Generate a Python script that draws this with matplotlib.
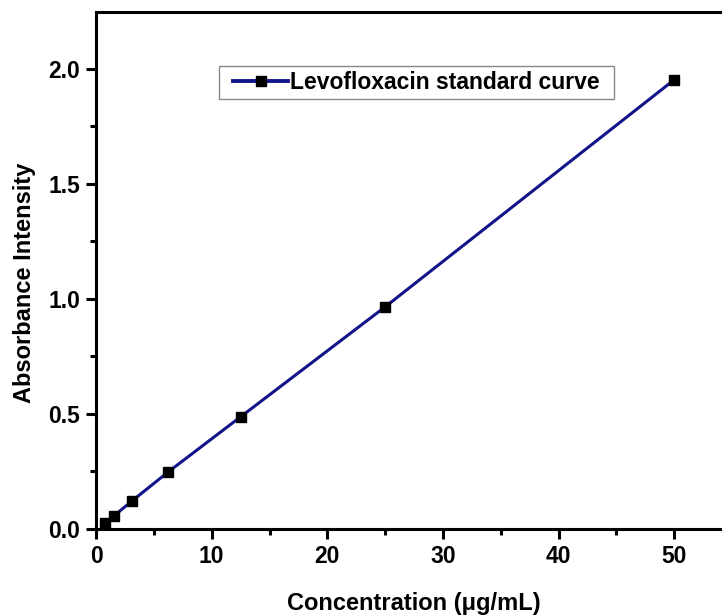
import matplotlib
matplotlib.use("Agg")
import matplotlib.pyplot as plt
from matplotlib.ticker import MultipleLocator, FormatStrFormatter

# Levofloxacin calibration data
conc = [0.78, 1.56, 3.125, 6.25, 12.5, 25, 50]
absorb = [0.025, 0.057, 0.122, 0.248, 0.487, 0.965, 1.952]

plt.rcParams['font.family'] = ['Liberation Sans', 'DejaVu Sans']
plt.rcParams['font.weight'] = 'bold'

fig = plt.figure(figsize=(7.22, 6.15), dpi=100)
ax = fig.add_axes([0.133, 0.140, 0.881, 0.840])

ax.plot(conc, absorb, color='#14148a', linewidth=2.2, marker='s',
        markersize=7.5, markerfacecolor='black', markeredgecolor='black',
        label='Levofloxacin standard curve')

ax.set_xlim(0, 55)
ax.set_ylim(0, 2.245)
ax.xaxis.set_major_locator(MultipleLocator(10))
ax.xaxis.set_minor_locator(MultipleLocator(5))
ax.yaxis.set_major_locator(MultipleLocator(0.5))
ax.yaxis.set_minor_locator(MultipleLocator(0.25))
ax.yaxis.set_major_formatter(FormatStrFormatter('%.1f'))

for s in ax.spines.values():
    s.set_linewidth(2.2)
ax.tick_params(which='major', direction='out', length=7.5, width=2.2,
               labelsize=16.5, pad=4)
ax.tick_params(which='minor', direction='out', length=4.5, width=2.2)
for lab in ax.get_xticklabels() + ax.get_yticklabels():
    lab.set_fontweight('bold')

ax.set_xlabel('Concentration (\u03bcg/mL)', fontsize=17, fontweight='bold')
ax.set_ylabel('Absorbance Intensity', fontsize=17, fontweight='bold')
ax.xaxis.set_label_coords(0.5, -0.122)
ax.yaxis.set_label_coords(-0.094, 0.476)

# legend: wider side padding than top/bottom, like the original box
leg = ax.legend(loc='upper left', bbox_to_anchor=(0.2154, 0.886), borderaxespad=0,
                fancybox=False, framealpha=1, edgecolor='#888888',
                prop={'size': 16.5, 'weight': 'bold'}, handlelength=2.4,
                handletextpad=0.1, borderpad=0)
frame = leg.get_frame()
frame.set_linewidth(1)
frame.set_boxstyle('square', pad=0.6)
frame.set_mutation_aspect(0.35)
leg.get_lines()[0].set_linewidth(2.8)

fig.savefig('out.png', dpi=100)
